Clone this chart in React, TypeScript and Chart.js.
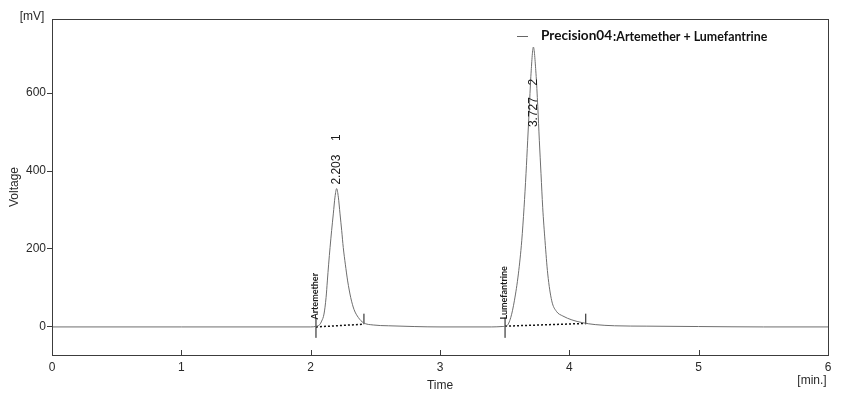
import { useEffect, useRef } from "react";
import { Chart, registerables } from "chart.js";

Chart.register(...registerables);

// ---- data ----
const timeMin = [
  0, 1.0, 2.0, 2.047, 2.07, 2.085, 2.103, 2.119, 2.129, 2.139, 2.15, 2.162, 2.175, 2.188, 2.201,
  2.214, 2.227, 2.24, 2.252, 2.268, 2.286, 2.31, 2.335, 2.369, 2.407, 2.484, 2.6, 2.8, 3.0, 3.4,
  3.48, 3.516, 3.547, 3.575, 3.606, 3.632, 3.65, 3.665, 3.678, 3.691, 3.704, 3.722, 3.742, 3.756,
  3.768, 3.781, 3.794, 3.812, 3.833, 3.864, 3.9, 3.95, 4.02, 4.1, 4.2, 4.35, 4.6, 5.0, 5.5, 6.0,
];
const signalMv = [
  0, 0, 0, 2, 6, 15, 33, 75, 118, 161, 204, 247, 290, 333, 355,
  333, 290, 247, 204, 161, 118, 75, 45, 24, 11, 5, 3, 1, 0, 0,
  1, 3, 24, 67, 136, 221, 307, 393, 479, 565, 651, 718, 651, 565,
  479, 393, 307, 221, 136, 67, 40, 28, 18, 11, 6, 3, 2, 1, 0, 0,
];

const peakRetention = [2.203, 3.727];
const peakNumbers = ["1", "2"];
const peakNames = ["Artemether", "Lumefantrine"];
const peakStartMin = [2.041, 3.503];
const peakEndMin = [2.412, 4.127];
const baselineStartMv = [0, 2];
const baselineEndMv = [7, 9];
const startMarkerMv = [-28, 24];
const endMarkerMv = [7, 34];

const xTickValues = [0, 1, 2, 3, 4, 5, 6];
const yTickValues = [0, 200, 400, 600];
const legendName = "Precision04";
const legendDesc = ":Artemether + Lumefantrine";

const FONT = "'Liberation Sans', Arial, sans-serif";

export default function App() {
  const ref = useRef<HTMLCanvasElement | null>(null);

  useEffect(() => {
    document.body.style.margin = "0";
    const canvas = ref.current;
    if (!canvas) return;

    const signal = timeMin.map((t, i) => ({ x: t, y: signalMv[i] }));
    const markers: any[] = [];
    const baselines: any[] = [];
    peakStartMin.forEach((s, i) => {
      markers.push({ x: s, y: startMarkerMv[0] }, { x: s, y: startMarkerMv[1] }, { x: s, y: null });
      markers.push({ x: peakEndMin[i], y: endMarkerMv[0] }, { x: peakEndMin[i], y: endMarkerMv[1] }, { x: peakEndMin[i], y: null });
      baselines.push({ x: s, y: baselineStartMv[i] }, { x: peakEndMin[i], y: baselineEndMv[i] }, { x: peakEndMin[i], y: null });
    });

    const labelBottomOffsetPx = [4, -80]; // label bottom relative to apex pixel (negative = below apex)
    const numberGapPx = [47, 45];

    const decor = {
      id: "decor",
      afterDraw(chart: any) {
        const { ctx, chartArea: a, scales } = chart;
        const xs = scales.x;
        const ys = scales.y;
        ctx.save();
        // frame
        ctx.strokeStyle = "#3c3c3c";
        ctx.lineWidth = 1;
        ctx.strokeRect(Math.round(a.left) + 0.5, Math.round(a.top) + 0.5, Math.round(a.right - a.left), Math.round(a.bottom - a.top));
        // inward x ticks
        ctx.beginPath();
        xTickValues.forEach((v) => {
          const px = Math.round(xs.getPixelForValue(v)) + 0.5;
          ctx.moveTo(px, a.bottom);
          ctx.lineTo(px, a.bottom - 5);
        });
        ctx.stroke();

        ctx.fillStyle = "#2a2a2a";
        ctx.font = `12px ${FONT}`;
        ctx.textAlign = "center";
        ctx.textBaseline = "middle";
        ctx.fillText("[mV]", 32, 17);
        ctx.fillText("Time", (a.left + a.right) / 2, 386);
        ctx.fillText("[min.]", a.right - 16, 381);
        ctx.save();
        ctx.translate(15, 187);
        ctx.rotate(-Math.PI / 2);
        ctx.fillText("Voltage", 0, 0);
        ctx.restore();

        // peak labels
        peakRetention.forEach((rt, i) => {
          const px = xs.getPixelForValue(rt);
          const apexMv = Math.max(...signalMv.filter((_, k) => Math.abs(timeMin[k] - rt) < 0.2));
          const apexPx = ys.getPixelForValue(apexMv);
          const bottom = apexPx - labelBottomOffsetPx[i];
          ctx.save();
          ctx.font = `12px ${FONT}`;
          ctx.fillStyle = "#1a1a1a";
          ctx.translate(px, bottom);
          ctx.rotate(-Math.PI / 2);
          ctx.textAlign = "left";
          ctx.textBaseline = "middle";
          ctx.fillText(rt.toFixed(3), 0, 0);
          ctx.textAlign = "center";
          ctx.fillText(peakNumbers[i], numberGapPx[i], 0);
          ctx.restore();

          // peak names above start markers
          const sx = xs.getPixelForValue(peakStartMin[i]);
          const sy = ys.getPixelForValue(startMarkerMv[1]) + 2;
          ctx.save();
          ctx.font = `bold 9px Lato, ${FONT}`;
          ctx.fillStyle = "#1a1a1a";
          ctx.translate(sx - 0.5, sy);
          ctx.rotate(-Math.PI / 2);
          ctx.textAlign = "left";
          ctx.textBaseline = "middle";
          ctx.fillText(peakNames[i], 0, 0);
          ctx.restore();
        });

        // legend
        ctx.strokeStyle = "#666";
        ctx.beginPath();
        ctx.moveTo(517, 36.5);
        ctx.lineTo(528, 36.5);
        ctx.stroke();
        ctx.fillStyle = "#111";
        ctx.textAlign = "left";
        ctx.textBaseline = "middle";
        ctx.font = `bold 13.6px Lato, ${FONT}`;
        ctx.fillText(legendName, 541, 36);
        const w = ctx.measureText(legendName).width;
        ctx.font = `bold 12.4px Lato, ${FONT}`;
        ctx.fillText(legendDesc, 541 + w + 1, 36.5);
        ctx.restore();
      },
    };

    const chart = new Chart(canvas, {
      type: "line",
      data: {
        datasets: [
          {
            data: signal,
            borderColor: "#6e6e6e",
            borderWidth: 1,
            pointRadius: 0,
            tension: 0.25,
            cubicInterpolationMode: "monotone",
          } as any,
          {
            data: markers,
            borderColor: "#111",
            borderWidth: 1,
            pointRadius: 0,
            spanGaps: false,
          },
          {
            data: baselines,
            borderColor: "#111",
            borderWidth: 1.5,
            borderDash: [2, 2],
            pointRadius: 0,
            spanGaps: false,
          },
        ],
      },
      options: {
        animation: false,
        responsive: false,
        maintainAspectRatio: false,
        layout: { padding: { left: 0, right: 18, top: 19, bottom: 0 } },
        plugins: { legend: { display: false }, tooltip: { enabled: false } },
        scales: {
          x: {
            type: "linear",
            min: 0,
            max: 6,
            afterBuildTicks: (s: any) => {
              s.ticks = xTickValues.map((v) => ({ value: v }));
            },
            afterFit: (s: any) => {
              s.height = 41;
            },
            border: { display: false },
            grid: { display: false, drawTicks: false },
            ticks: { padding: 5, color: "#2a2a2a", font: { family: FONT, size: 12 }, maxRotation: 0 },
          },
          y: {
            type: "linear",
            min: -72,
            max: 790,
            afterBuildTicks: (s: any) => {
              s.ticks = yTickValues.map((v) => ({ value: v }));
            },
            afterFit: (s: any) => {
              s.width = 52;
            },
            border: { display: false },
            grid: { drawOnChartArea: false, drawTicks: true, tickLength: 5, color: "#3c3c3c" },
            ticks: { padding: 1, color: "#2a2a2a", font: { family: FONT, size: 12 } },
          },
        },
      },
      plugins: [decor],
    });
    return () => chart.destroy();
  }, []);

  return <canvas ref={ref} width={846} height={396} style={{ display: "block" }} />;
}
